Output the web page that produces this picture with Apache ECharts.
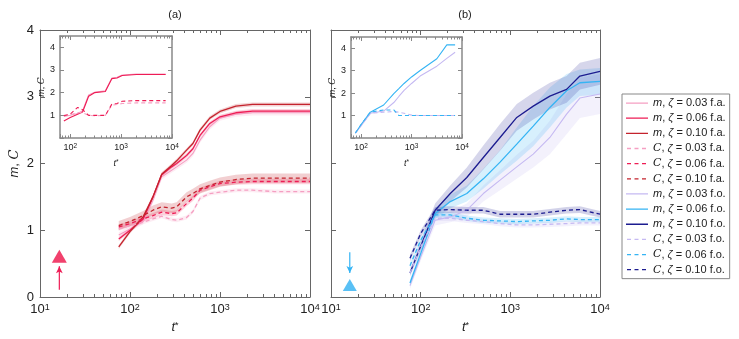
<!DOCTYPE html>
<html><head><meta charset="utf-8">
<script src="https://cdn.jsdelivr.net/npm/echarts@6/dist/echarts.min.js"></script>
<style>html,body{margin:0;padding:0;background:#fff}#c{width:739px;height:339px}</style>
</head><body><div id="c"></div>
<script>
// ---------- DATA ----------
// Panel (a): f.a.
const tA = [75, 100, 140, 180, 225, 290, 330, 425, 500, 600, 770, 1000, 1500, 2300, 4000, 10000];
const mFa03 = [0.93, 1.02, 1.13, 1.45, 1.80, 1.90, 1.95, 2.05, 2.15, 2.35, 2.55, 2.68, 2.74, 2.76, 2.76, 2.76];
const mFa06 = [0.87, 1.00, 1.17, 1.50, 1.83, 1.95, 2.00, 2.12, 2.22, 2.42, 2.60, 2.70, 2.76, 2.785, 2.785, 2.785];
const mFa10 = [0.75, 0.98, 1.20, 1.50, 1.84, 1.97, 2.04, 2.20, 2.30, 2.50, 2.68, 2.78, 2.86, 2.885, 2.885, 2.885];
const cFa03 = [1.02, 1.07, 1.12, 1.17, 1.21, 1.16, 1.15, 1.19, 1.28, 1.48, 1.55, 1.57, 1.60, 1.60, 1.58, 1.58];
const cFa06 = [1.05, 1.10, 1.17, 1.22, 1.27, 1.25, 1.26, 1.40, 1.48, 1.60, 1.65, 1.70, 1.72, 1.73, 1.73, 1.73];
const cFa10 = [1.07, 1.13, 1.22, 1.30, 1.35, 1.33, 1.35, 1.50, 1.55, 1.62, 1.67, 1.72, 1.76, 1.78, 1.78, 1.78];
// band half-widths, panel (a), order: mFa03, mFa06, mFa10, cFa03, cFa06, cFa10
const bandFa = [0.04, 0.03, 0.03, 0.03, 0.04, 0.07];

// Panel (b): f.o.
const tB = [76, 100, 145, 214, 327, 500, 768, 1180, 1800, 2760, 4240, 5970, 10000];
const mFo03 = [0.17, 0.60, 1.15, 1.20, 1.30, 1.55, 1.75, 1.95, 2.14, 2.39, 2.74, 2.98, 3.04];
const mFo06 = [0.21, 0.65, 1.25, 1.43, 1.55, 1.77, 2.02, 2.29, 2.56, 2.84, 3.09, 3.21, 3.23];
const mFo10 = [0.36, 0.76, 1.30, 1.55, 1.79, 2.09, 2.39, 2.69, 2.86, 3.01, 3.11, 3.31, 3.38];
const cFo03 = [0.36, 0.75, 1.18, 1.18, 1.15, 1.13, 1.10, 1.08, 1.08, 1.09, 1.10, 1.11, 1.11];
const cFo06 = [0.47, 0.85, 1.23, 1.23, 1.18, 1.15, 1.14, 1.13, 1.14, 1.15, 1.17, 1.16, 1.16];
const cFo10 = [0.58, 0.95, 1.30, 1.31, 1.30, 1.30, 1.24, 1.24, 1.24, 1.27, 1.30, 1.31, 1.24];
const bMFo03 = [0.05, 0.06, 0.08, 0.08, 0.10, 0.12, 0.15, 0.18, 0.20, 0.25, 0.30, 0.30, 0.30];
const bMFo06 = [0.05, 0.06, 0.08, 0.10, 0.12, 0.15, 0.18, 0.25, 0.30, 0.30, 0.25, 0.20, 0.20];
const bMFo10 = [0.05, 0.08, 0.10, 0.12, 0.15, 0.18, 0.20, 0.20, 0.20, 0.20, 0.20, 0.20, 0.20];
const bCFo = [0.04, 0.04, 0.05];

// Inset (a)
const tIa = [75, 100, 140, 175, 230, 300, 490, 660, 830, 1050, 2000, 7500];
const imRed = [0.75, 0.90, 1.05, 1.15, 1.84, 2.00, 2.05, 2.62, 2.65, 2.76, 2.80, 2.80];
const imPink = [0.95, 1.00, 1.08, 1.20, 1.90, 2.02, 2.08, 2.65, 2.68, 2.78, 2.82, 2.82];
const icRed = [0.98, 1.05, 1.35, 1.25, 1.00, 1.00, 1.00, 1.50, 1.52, 1.62, 1.65, 1.65];
const icPink = [1.00, 1.03, 1.12, 1.12, 1.00, 0.98, 1.00, 1.45, 1.48, 1.52, 1.55, 1.55];
// Inset (b)
const tIb = [77, 100, 152, 280, 445, 560, 710, 1000, 1480, 3170, 5000, 7300];
const imBlue = [0.22, 0.60, 1.15, 1.47, 1.98, 2.20, 2.43, 2.72, 3.01, 3.53, 4.15, 4.15];
const imLav = [0.22, 0.55, 1.10, 1.20, 1.58, 1.85, 2.12, 2.43, 2.76, 3.20, 3.55, 3.82];
const icBlue = [0.22, 0.60, 1.15, 1.25, 1.25, 1.00, 1.00, 1.00, 1.00, 1.00, 1.00, 1.00];
const icLav = [0.22, 0.55, 1.10, 1.15, 1.18, 1.15, 1.10, 1.02, 1.00, 1.00, 1.00, 1.00];

// Annotations: [t, value]
const arrowA = [[16.4, 0.11], [16.4, 0.46]];
const triA = [16.4, 0.61];
const arrowB = [[16.2, 0.67], [16.2, 0.36]];
const triB = [16.2, 0.18];

// Tick labels
const mainYTicks = [0, 1, 2, 3, 4];
const insetYTicks = [1, 2, 3, 4];
const minorMain = [20,30,40,50,60,70,80,90,200,300,400,500,600,700,800,900,2000,3000,4000,5000,6000,7000,8000,9000];
const minorInset = [70,80,90,200,300,400,500,600,700,800,900,2000,3000,4000,5000,6000,7000,8000,9000];

const names = [
  'm, ζ = 0.03 f.a.', 'm, ζ = 0.06 f.a.', 'm, ζ = 0.10 f.a.',
  'C, ζ = 0.03 f.a.', 'C, ζ = 0.06 f.a.', 'C, ζ = 0.10 f.a.',
  'm, ζ = 0.03 f.o.', 'm, ζ = 0.06 f.o.', 'm, ζ = 0.10 f.o.',
  'C, ζ = 0.03 f.o.', 'C, ζ = 0.06 f.o.', 'C, ζ = 0.10 f.o.'
];

// ---------- STYLE ----------
const FF = 'Liberation Sans';
const col = {
  fa03: '#f59fc2', fa06: '#ee1c55', fa10: '#c4232d',
  fo03: '#c5b9f2', fo06: '#35b4f4', fo10: '#1c1c90'
};
const axisCol = '#666';

function rgba(hex, a) {
  const n = parseInt(hex.slice(1), 16);
  return 'rgba(' + (n >> 16) + ',' + ((n >> 8) & 255) + ',' + (n & 255) + ',' + a + ')';
}

const grids = [
  {left: 40, top: 30, width: 270, height: 269},
  {left: 331, top: 30, width: 269, height: 269},
  {left: 60, top: 36, width: 112, height: 102},
  {left: 351, top: 37, width: 111, height: 101}
];

function supFmt(v) {
  const e = Math.log10(v);
  if (Math.abs(e - Math.round(e)) > 1e-6) return '';
  return '10{s|' + Math.round(e) + '}';
}

const xAxes = [], yAxes = [];
grids.forEach((g, gi) => {
  const inset = gi >= 2;
  const min = inset ? 63 : 10;
  const fs = inset ? 9 : 13;
  const ss = inset ? 6.5 : 9;
  const lc = inset ? '#888' : axisCol;
  const lw = inset ? 1.5 : 1;
  const common = {type: 'log', logBase: 10, gridIndex: gi, min: min, max: 10000};
  xAxes.push(Object.assign({}, common, {
    position: 'bottom',
    axisLine: {show: true, lineStyle: {color: lc, width: lw}},
    axisTick: {show: true, inside: true, length: inset ? 4 : 5, lineStyle: {color: lc}},
    axisLabel: {show: true, formatter: supFmt, color: '#222', fontFamily: FF, fontSize: fs, margin: inset ? 5 : 6,
      rich: {s: {fontSize: ss, fontFamily: FF, color: '#222', verticalAlign: 'top', lineHeight: ss}}},
    splitLine: {show: false},
    name: '{i|t}{s|*}', nameLocation: 'middle', nameGap: inset ? 21 : 24,
    nameTextStyle: {fontFamily: FF, fontSize: fs, color: '#222',
      rich: {i: {fontStyle: 'italic', fontFamily: FF, fontSize: fs, color: '#222'},
             s: {fontFamily: FF, fontSize: ss, color: '#222', verticalAlign: 'top', lineHeight: ss}}}
  }));
  xAxes.push(Object.assign({}, common, {
    position: 'bottom',
    axisLine: {show: false}, axisLabel: {show: false}, splitLine: {show: false},
    axisTick: {show: true, inside: true, length: inset ? 2.5 : 3, customValues: inset ? minorInset : minorMain, lineStyle: {color: lc}}
  }));
  xAxes.push(Object.assign({}, common, {
    position: 'top',
    axisLine: {show: true, lineStyle: {color: lc, width: lw}},
    axisTick: {show: true, inside: true, length: inset ? 4 : 5, lineStyle: {color: lc}},
    axisLabel: {show: false}, splitLine: {show: false}
  }));
  xAxes.push(Object.assign({}, common, {
    position: 'top',
    axisLine: {show: false}, axisLabel: {show: false}, splitLine: {show: false},
    axisTick: {show: true, inside: true, length: inset ? 2.5 : 3, customValues: inset ? minorInset : minorMain, lineStyle: {color: lc}}
  }));
  const ycommon = {type: 'value', gridIndex: gi, min: 0, max: inset ? 4.5 : 4, interval: 1, splitLine: {show: false}};
  const showY = gi !== 1;
  const ticksList = inset ? insetYTicks : mainYTicks;
  const nfs = inset ? 9 : 13;
  yAxes.push(Object.assign({}, ycommon, {
    position: 'left',
    axisLine: {show: true, lineStyle: {color: lc, width: lw}},
    axisTick: {show: true, inside: true, length: inset ? 4 : 5, lineStyle: {color: lc}},
    axisLabel: {show: showY, color: '#222', fontFamily: FF, fontSize: fs, margin: inset ? 5 : 6,
      formatter: v => ticksList.indexOf(v) >= 0 ? String(v) : ''},
    name: showY ? '{i|m}, {c|C}' : '', nameLocation: 'middle', nameRotate: 90, nameGap: inset ? 9 : 19,
    nameTextStyle: {fontFamily: FF, fontSize: nfs, color: '#222',
      rich: {i: {fontStyle: 'italic', fontFamily: FF, fontSize: nfs, color: '#222'},
             c: {fontStyle: 'italic', fontFamily: 'DejaVu Serif', fontSize: nfs, color: '#222'}}}
  }));
  yAxes.push(Object.assign({}, ycommon, {
    position: 'right',
    axisLine: {show: true, lineStyle: {color: lc, width: lw}},
    axisTick: {show: true, inside: true, length: inset ? 4 : 5, lineStyle: {color: lc}},
    axisLabel: {show: false}
  }));
});

const series = [];
function pairs(xs, ys) { return xs.map((x, i) => [x, ys[i]]); }
function addLine(name, xs, ys, color, dashed, width, gi, z) {
  series.push({
    type: 'line', name: name, xAxisIndex: gi * 4, yAxisIndex: gi * 2,
    data: pairs(xs, ys), symbol: 'none', showSymbol: false, smooth: false, z: z || 3,
    lineStyle: {color: color, width: width, type: dashed ? [4, 3] : 'solid'},
    itemStyle: {color: color}
  });
}
let bandId = 0;
function addBand(xs, ys, ws, color, alpha, gi) {
  const id = 'band' + (bandId++);
  const wArr = Array.isArray(ws) ? ws : xs.map(() => ws);
  const lo = ys.map((y, i) => y - wArr[i]);
  const hi = ys.map((y, i) => y + wArr[i]);
  series.push({
    type: 'custom', name: id, xAxisIndex: gi * 4, yAxisIndex: gi * 2, z: 1, silent: true,
    data: xs.map((x, i) => [x, lo[i], hi[i]]),
    encode: {x: 0, y: [1, 2]},
    renderItem: (params, api) => {
      if (params.dataIndex !== 0) return null;
      const pts = [];
      for (let i = 0; i < xs.length; i++) pts.push(api.coord([xs[i], hi[i]]));
      for (let i = xs.length - 1; i >= 0; i--) pts.push(api.coord([xs[i], lo[i]]));
      return {type: 'polygon', shape: {points: pts}, style: {fill: rgba(color, alpha), stroke: null}};
    }
  });
}

// Panel (a)
const faYs = [mFa03, mFa06, mFa10, cFa03, cFa06, cFa10];
const faCols = [col.fa03, col.fa06, col.fa10, col.fa03, col.fa06, col.fa10];
faYs.forEach((ys, k) => addBand(tA, ys, bandFa[k], faCols[k], k === 5 ? 0.22 : 0.2, 0));
faYs.forEach((ys, k) => addLine(names[k], tA, ys, faCols[k], k >= 3, k === 0 ? 1.1 : 1.3, 0));

// Panel (b)
const foYs = [mFo03, mFo06, mFo10, cFo03, cFo06, cFo10];
const foCols = [col.fo03, col.fo06, col.fo10, col.fo03, col.fo06, col.fo10];
const foBands = [bMFo03, bMFo06, bMFo10, bCFo[0], bCFo[1], bCFo[2]];
foYs.forEach((ys, k) => addBand(tB, ys, foBands[k], foCols[k], k === 2 ? 0.18 : 0.2, 1));
foYs.forEach((ys, k) => addLine(names[6 + k], tB, ys, foCols[k], k >= 3, k === 0 ? 1.1 : 1.3, 1));

// Insets
addLine('inset a m 0.03', tIa, imPink, col.fa03, false, 1.1, 2);
addLine('inset a m 0.06', tIa, imRed, col.fa06, false, 1.1, 2);
addLine('inset a C 0.03', tIa, icPink, col.fa03, true, 1.1, 2);
addLine('inset a C 0.06', tIa, icRed, col.fa06, true, 1.1, 2);
addLine('inset b m 0.03', tIb, imLav, col.fo03, false, 1.1, 3);
addLine('inset b m 0.06', tIb, imBlue, col.fo06, false, 1.1, 3);
addLine('inset b C 0.03', tIb, icLav, col.fo03, true, 1.1, 3);
addLine('inset b C 0.06', tIb, icBlue, col.fo06, true, 1.1, 3);

// Annotations
series.push({type: 'line', name: 'arrowA', xAxisIndex: 0, yAxisIndex: 0, z: 5,
  data: [{value: arrowA[0], symbol: 'none'}, {value: arrowA[1], symbol: 'arrow', symbolSize: [5, 7]}],
  lineStyle: {color: '#ee1c55', width: 1.2}, itemStyle: {color: '#ee1c55'}});
series.push({type: 'scatter', name: 'triA', xAxisIndex: 0, yAxisIndex: 0, z: 5,
  data: [triA], symbol: 'triangle', symbolSize: [15, 13], itemStyle: {color: '#ee1149'}});
series.push({type: 'line', name: 'arrowB', xAxisIndex: 4, yAxisIndex: 2, z: 5,
  data: [{value: arrowB[0], symbol: 'none'}, {value: arrowB[1], symbol: 'arrow', symbolSize: [5, 7], symbolRotate: 180}],
  lineStyle: {color: '#35b4f4', width: 1.2}, itemStyle: {color: '#35b4f4'}});
series.push({type: 'scatter', name: 'triB', xAxisIndex: 4, yAxisIndex: 2, z: 5,
  data: [triB], symbol: 'triangle', symbolSize: [14, 12], itemStyle: {color: '#2fb0f2'}});

const solidIcon = 'path://M0,0h0.01v0.01h-0.01z M0,4.4h22v1.3h-22z M21.99,9.99h0.01v0.01h-0.01z';
const dashIcon = 'path://M0,0h0.01v0.01h-0.01z M1,4.4h4v1.3h-4z M8.5,4.4h4v1.3h-4z M16,4.4h4v1.3h-4z M21.99,9.99h0.01v0.01h-0.01z';

const chart = echarts.init(document.getElementById('c'), null, {renderer: 'canvas'});
chart.setOption({
  animation: false,
  backgroundColor: '#fff',
  grid: grids,
  xAxis: xAxes,
  yAxis: yAxes,
  legend: {
    data: names.map((n, k) => ({name: n, icon: (k % 6) >= 3 ? dashIcon : solidIcon})),
    orient: 'vertical', left: 622, top: 94,
    itemWidth: 22, itemHeight: 10, itemGap: 3.15, padding: [3, 4, 3, 4],
    borderColor: '#888', borderWidth: 1, borderRadius: 0, backgroundColor: '#fff',
    selectedMode: false,
    itemStyle: {borderWidth: 0},
    formatter: n => {
      const parts = n.split(', ζ');
      const first = parts[0] === 'm' ? '{i|m}' : '{c|C}';
      return first + ', {i|ζ}' + parts[1];
    },
    textStyle: {fontFamily: FF, fontSize: 11, color: '#222', lineHeight: 12,
      rich: {i: {fontStyle: 'italic', fontFamily: FF, fontSize: 11, color: '#222'},
             c: {fontStyle: 'italic', fontFamily: 'DejaVu Serif', fontSize: 11, color: '#222'}}}
  },
  graphic: [
    {type: 'text', x: 175, y: 9, style: {text: '(a)', fontFamily: FF, fontSize: 11, fill: '#222', align: 'center'}},
    {type: 'text', x: 465, y: 9, style: {text: '(b)', fontFamily: FF, fontSize: 11, fill: '#222', align: 'center'}}
  ],
  series: series
});
</script>
</body></html>
